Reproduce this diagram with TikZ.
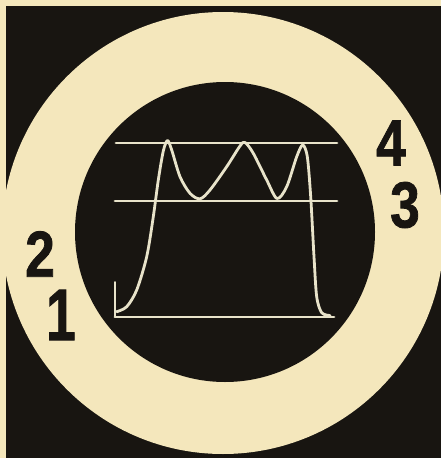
\documentclass[tikz,border=0pt]{standalone}
\usepackage{fontspec}
\newfontfamily\digitfont[FakeBold=1.3]{Liberation Sans}
\definecolor{cream}{RGB}{244,231,188}
\definecolor{ink}{RGB}{24,21,17}
\definecolor{tracec}{RGB}{232,227,202}
\begin{document}
\begin{tikzpicture}[x=1pt,y=-1pt,
  digit/.style={inner sep=0pt, text=ink, font=\digitfont\bfseries\fontsize{65}{65}\selectfont, xscale=0.82},
  traceline/.style={draw=tracec, line width=2.8pt, line cap=round, line join=round}]
\useasboundingbox (0,0) rectangle (441,458);
\fill[cream] (0,0) rectangle (441,458);
\fill[ink] (6,6) rectangle (441,458);
\fill[cream] (223,233) circle[radius=221pt];
\fill[ink] (225,232) circle[radius=150pt];
% graticule lines
\draw[traceline] (116,143) -- (337,143);
\draw[traceline] (115,201) -- (337,201);
\draw[traceline] (115,317) -- (334,317);
\draw[traceline, line width=1.6pt] (115,282) -- (115,317);
% waveform
\draw[traceline] plot[smooth, tension=0.5] coordinates {
  (116.7,311.7) (126.7,306.7) (136.7,290) (146.7,256.7) (153.3,216.7)
  (158.3,180) (163.3,151) (167.5,140.5) (171.7,150) (180,176.7) (190,193.3)
  (200,198.8) (210,190) (226.7,166.7) (240,146) (245,142.5) (253.3,153.3)
  (266.7,180) (277,198.5) (286.7,186.7) (296.7,156.7) (302.7,145)
  (307.3,156.7) (310.7,196.7) (314,256.7) (316.7,296.7) (321.7,312.7) (330,315.5)};
% labels
\node[digit] (n4) at (391,143) {4};
\node[digit] (n3) at (405,205) {3};
\node[digit] (n2) at (40,254) {2};
\node[digit, yscale=1.12] (n1) at (61,315) {1};
\end{tikzpicture}
\end{document}
